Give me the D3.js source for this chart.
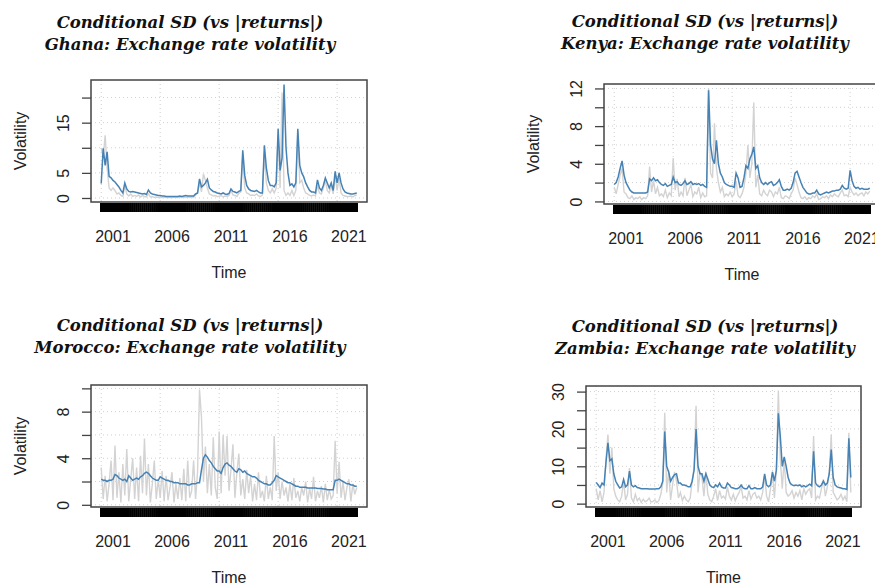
<!DOCTYPE html>
<html>
<head>
<meta charset="utf-8">
<script src="https://cdn.jsdelivr.net/npm/d3@7"></script>
<style>
  body { margin: 0; background: #fff; }
</style>
</head>
<body>
<div id="chart"></div>
<script>
// bimonthly series, start 2000, 6 obs per year
const startYear = 2000;
const perYear = 6;

const ghanaSigma = [
  2.9, 9.9, 6.5, 9.2, 4.3, 4.0,
  3.5, 3.2, 2.7, 2.2, 1.5, 1.0,
  3.0, 1.8, 1.3, 1.2, 1.3, 1.2,
  1.1, 1.0, 0.9, 0.8, 0.9, 0.7,
  1.6, 1.0, 0.8, 0.7, 0.6, 0.5,
  0.5, 0.4, 0.4, 0.3, 0.3, 0.3,
  0.3, 0.3, 0.3, 0.3, 0.4, 0.3,
  0.4, 0.5, 0.4, 0.4, 0.4, 0.4,
  0.8, 1.0, 3.8, 2.2, 2.5, 3.0,
  3.7, 2.0, 1.6, 1.3, 1.2, 1.0,
  0.9, 0.8, 1.0, 0.8, 0.7, 0.9,
  1.8, 1.3, 1.2, 1.0, 1.3, 1.5,
  9.5, 4.5, 2.5, 1.8, 1.5, 1.4,
  1.3, 1.5, 1.2, 1.0, 1.0, 10.5,
  6.0, 3.5, 2.5, 2.5, 2.2, 3.0,
  13.8, 5.5, 8.0, 22.6, 10.0, 5.0,
  2.5, 2.8, 2.2, 3.0, 13.8, 6.5,
  5.0, 4.2, 3.0, 2.2, 1.5, 1.2,
  1.2, 1.0, 3.6, 2.0, 1.5, 2.5,
  4.0, 3.0, 2.0, 3.0, 1.5, 5.3,
  3.0, 5.0, 3.0, 1.8, 1.2, 1.0,
  0.9, 0.8, 0.8, 0.9, 1.0
];
const ghanaAbsRet = [
  10.0, 8.0, 12.5, 6.0, 2.0, 1.5,
  2.0, 1.5, 0.8, 1.0, 0.5, 0.3,
  2.5, 0.8, 0.4, 0.8, 0.3, 0.5,
  0.3, 0.6, 0.2, 0.5, 0.3, 0.2,
  0.8, 0.2, 0.3, 0.1, 0.2, 0.1,
  0.1, 0.1, 0.2, 0.1, 0.1, 0.1,
  0.1, 0.2, 0.1, 0.1, 0.2, 0.1,
  0.2, 0.1, 0.2, 0.1, 0.2, 0.1,
  0.6, 0.9, 3.0, 1.2, 4.8, 3.5,
  2.0, 0.8, 0.6, 0.4, 0.5, 0.3,
  0.3, 0.5, 0.2, 0.4, 0.3, 0.5,
  1.5, 0.6, 0.5, 0.3, 0.9, 1.2,
  8.5, 2.0, 1.0, 0.8, 0.5, 0.6,
  0.5, 0.8, 0.4, 0.3, 0.6, 9.0,
  3.0, 1.5, 1.0, 1.8, 1.0, 2.0,
  12.5, 2.0, 21.0, 1.5, 0.5, 1.0,
  0.5, 1.5, 0.5, 1.5, 13.0, 3.0,
  3.5, 2.0, 1.0, 0.8, 0.5, 0.4,
  0.6, 0.4, 2.5, 1.0, 0.8, 2.0,
  3.5, 1.5, 1.0, 2.5, 0.8, 4.5,
  1.5, 4.0, 1.0, 0.5, 0.4, 0.3,
  0.3, 0.4, 0.2, 0.5, 0.6
];

const kenyaSigma = [
  1.8, 2.0, 2.6, 3.5, 4.3, 2.8,
  2.0, 1.6, 1.2, 1.0, 0.9, 0.9,
  0.9, 0.9, 0.9, 0.9, 0.9, 1.0,
  2.4, 2.2, 2.5, 2.2, 2.3, 2.0,
  1.8, 1.7, 1.9, 1.6, 1.7, 1.8,
  2.6, 2.0, 2.1, 1.8, 1.7, 1.9,
  2.2, 1.8, 1.9, 2.1, 1.8, 1.9,
  1.8, 1.9, 1.7, 1.8, 1.6, 1.5,
  11.8, 6.0, 4.5, 4.0, 6.5, 4.0,
  3.0, 2.6, 2.0, 1.8, 1.7, 1.6,
  1.6, 1.5, 3.0, 2.5, 1.5, 1.6,
  2.5, 3.8, 3.5, 4.5, 5.0, 5.8,
  3.5, 3.8, 2.5, 2.0, 1.8, 2.0,
  1.8, 2.0, 2.1, 1.7, 1.8, 2.0,
  2.3, 1.6, 1.2, 1.2, 1.3, 1.2,
  1.4, 2.0, 3.0, 3.2, 2.6, 2.0,
  1.5, 1.2, 0.9, 0.8, 0.8, 0.9,
  0.9, 1.2, 0.8, 0.7, 0.8, 0.9,
  1.0, 0.9, 1.0, 1.1, 1.1, 1.2,
  1.2, 1.3, 1.7, 1.4, 1.3, 1.4,
  3.3, 2.2, 1.6, 1.4, 1.5, 1.3,
  1.4, 1.3, 1.3, 1.3, 1.4
];
const kenyaAbsRet = [
  1.5, 0.8, 1.8, 2.8, 3.5, 1.0,
  0.8, 0.4, 0.3, 0.6, 0.2, 0.4,
  0.3, 0.5, 0.2, 0.4, 0.3, 0.6,
  3.7, 1.0, 2.2, 0.8, 1.5, 0.6,
  0.8, 0.5, 1.2, 0.4, 0.9, 0.6,
  4.6, 1.2, 2.4, 0.5, 1.0, 0.6,
  2.5, 0.6, 1.2, 1.8, 0.5, 1.0,
  0.8, 1.5, 0.4, 0.9, 0.5, 0.6,
  12.0, 3.0, 2.5, 8.3, 3.5, 2.0,
  1.0, 1.5, 0.5, 0.8, 0.6, 1.0,
  0.5, 0.8, 2.2, 0.6, 0.4, 0.8,
  1.5, 3.0, 6.0, 2.5, 4.0, 10.5,
  1.5, 2.8, 0.8, 0.6, 1.2, 0.8,
  0.6, 1.2, 1.0, 0.5, 1.0, 0.8,
  1.5, 0.4, 0.3, 0.6, 0.5, 0.3,
  0.8, 1.2, 2.5, 1.8, 1.0, 0.4,
  0.3, 0.5, 0.2, 0.4, 0.3, 0.6,
  0.4, 0.8, 0.2, 0.3, 0.5, 0.4,
  0.6, 0.3, 0.7, 0.5, 0.8, 0.6,
  0.5, 0.9, 1.2, 0.6, 0.7, 0.5,
  1.5, 1.0, 0.7, 0.9, 0.6, 0.8,
  0.9, 0.6, 1.0, 0.8, 1.1
];

const moroccoSigma = [
  2.2, 2.1, 2.1, 2.0, 2.1, 2.1,
  2.2, 2.6, 2.5, 2.3, 2.2, 2.1,
  2.2, 2.0, 2.5, 2.3, 2.1, 2.2,
  2.3, 2.2, 2.4, 2.5, 2.7, 2.8,
  2.7, 2.5, 2.3, 2.2, 2.1, 2.1,
  2.4, 2.3, 2.2, 2.1, 2.1, 2.0,
  2.0, 1.9, 1.9, 1.9, 1.8, 1.8,
  1.8, 1.8, 1.7, 1.7, 1.8, 1.8,
  1.8, 1.9, 1.9, 3.0, 4.0, 4.3,
  4.1, 3.8, 3.6, 3.3, 3.1, 2.9,
  2.9, 2.7, 3.2, 3.5, 3.6, 3.4,
  3.3, 3.1, 2.9, 2.8, 3.1, 3.0,
  2.8, 2.9, 2.7, 2.6, 2.5, 2.4,
  2.4, 2.3, 2.1, 2.0, 1.9, 1.8,
  1.8, 1.7, 1.7, 1.9, 2.1, 2.5,
  2.4, 2.3, 2.2, 2.1, 2.0, 1.9,
  1.9, 1.8, 1.7, 1.6, 1.6, 1.5,
  1.5, 1.5, 1.5, 1.45, 1.45, 1.45,
  1.45, 1.45, 1.4, 1.4, 1.4, 1.35,
  1.35, 1.3, 1.3, 1.3, 1.3, 2.1,
  2.1, 2.2, 2.1, 2.0, 1.9, 1.8,
  1.8, 1.7, 1.7, 1.6, 1.6
];
const moroccoAbsRet = [
  3.2, 0.5, 2.5, 0.3, 1.8, 3.8,
  0.4, 5.1, 0.6, 2.8, 0.2, 3.5,
  0.8, 4.8, 0.3, 2.2, 4.0, 0.5,
  3.2, 0.3, 4.2, 1.0, 5.7, 0.8,
  3.5, 0.2, 1.8, 3.8, 0.5, 2.2,
  0.6, 2.9, 0.3, 2.5, 0.4, 1.5,
  2.8, 0.2, 1.8, 0.5, 2.3, 0.4,
  3.1, 0.3, 3.8, 0.6, 1.2, 3.8,
  0.5, 2.8, 9.9, 7.5, 2.0, 5.0,
  1.0, 3.5, 0.8, 5.8, 1.5, 0.5,
  6.3, 1.0, 6.0, 2.5, 5.9, 1.2,
  3.0, 5.2, 0.6, 2.8, 4.4, 0.8,
  2.2, 0.5, 3.0, 1.0, 2.5, 0.3,
  1.8, 0.4, 2.8, 0.6, 1.2, 0.3,
  2.5, 0.5, 1.5, 0.4, 5.9, 1.2,
  2.8, 0.5, 2.0, 0.8, 1.5, 0.3,
  1.8, 0.4, 2.3, 0.6, 1.2, 0.3,
  1.5, 0.8, 2.0, 0.2, 1.4, 0.5,
  2.4, 0.3, 1.2, 0.6, 1.6, 0.2,
  1.8, 0.4, 1.3, 0.5, 0.8, 5.5,
  1.0, 3.7, 0.6, 2.0, 0.4, 1.5,
  2.2, 0.3, 1.8, 0.9, 1.5
];

const zambiaSigma = [
  5.7, 5.0, 4.3, 5.5, 5.0, 11.0,
  16.3, 11.5, 12.0, 8.0, 6.0, 5.0,
  4.2, 4.5, 6.5, 4.5, 5.0, 8.7,
  5.0, 4.5, 4.8, 4.3, 4.2, 4.0,
  4.0, 4.0, 4.0, 3.9, 3.9, 3.9,
  3.9, 4.0, 4.0, 4.5, 6.0, 19.3,
  10.0, 8.5, 6.0, 7.0, 7.8, 8.0,
  5.5, 5.5, 5.0, 5.0, 4.8, 4.5,
  4.5, 6.0, 9.0, 20.0, 10.0, 8.0,
  8.0, 6.0, 8.0, 6.5, 5.0, 4.5,
  4.3, 5.0, 4.5, 5.5, 4.5, 4.2,
  4.2, 5.5, 5.0, 4.3, 4.2, 4.0,
  4.0, 4.3, 5.0, 4.2, 4.0, 4.0,
  4.8, 4.0, 4.0, 4.3, 4.0, 4.0,
  4.0, 4.5, 8.0, 5.0, 4.5, 5.0,
  8.5, 6.0, 9.0, 24.2, 18.0, 10.0,
  12.5, 10.0, 7.0, 5.5, 5.0, 4.8,
  5.0, 4.8, 5.0, 4.5, 4.8, 4.5,
  4.8, 5.2, 4.8, 14.0, 5.5, 4.8,
  4.5, 5.0, 6.0, 5.0, 5.5, 8.0,
  14.5, 7.0, 5.0, 4.5, 4.3, 4.2,
  4.0, 4.0, 3.8, 17.5, 7.0
];
const zambiaAbsRet = [
  4.0, 1.0, 3.5, 0.5, 3.0, 12.0,
  18.5, 8.0, 15.0, 4.0, 2.0, 1.0,
  0.5, 2.0, 6.0, 1.0, 2.5, 9.5,
  1.5, 0.5, 2.5, 0.8, 1.5, 0.3,
  1.2, 0.5, 0.8, 1.5, 0.4, 0.6,
  1.0, 0.3, 0.8, 2.5, 5.5, 24.3,
  3.0, 9.0, 1.0, 5.0, 8.5, 6.0,
  1.5, 3.0, 0.8, 2.0, 1.0, 0.5,
  1.5, 6.0, 10.0, 26.2, 3.0, 8.5,
  7.0, 2.0, 8.5, 2.5, 1.0, 0.5,
  2.0, 4.0, 0.8, 3.5, 1.5, 2.0,
  1.2, 4.5, 2.0, 1.0, 2.5, 0.8,
  2.0, 3.0, 4.5, 1.5, 2.0, 1.0,
  3.5, 1.2, 2.5, 3.0, 1.5, 2.0,
  1.0, 3.0, 7.5, 2.0, 0.5, 4.0,
  8.0, 1.5, 9.0, 30.3, 12.0, 4.0,
  12.0, 3.0, 2.0, 2.5, 3.5, 1.5,
  3.0, 2.0, 3.5, 1.0, 4.0, 2.5,
  3.5, 4.0, 1.5, 18.1, 1.0, 2.0,
  1.5, 4.0, 6.5, 2.0, 4.5, 8.5,
  18.4, 3.0, 2.0, 1.0, 1.5, 2.5,
  1.0, 2.0, 0.5, 19.0, 3.0
];

const xGridYears = [2000, 2005, 2010, 2015, 2020];
const xLabelYears = [2001, 2006, 2011, 2016, 2021];

const ghanaTicks = [0, 5, 10, 15, 20];
const ghanaLabels = [0, 5, 15];
const kenyaTicks = [0, 2, 4, 6, 8, 10, 12];
const kenyaLabels = [0, 4, 8, 12];
const moroccoTicks = [0, 2, 4, 6, 8, 10];
const moroccoLabels = [0, 4, 8];
const zambiaTicks = [0, 5, 10, 15, 20, 25, 30];
const zambiaLabels = [0, 10, 20, 30];

const titleTop = 'Conditional SD (vs |returns|)';

const panels = [
  { id: 'ghana', country: 'Ghana', sigma: ghanaSigma, absRet: ghanaAbsRet,
    ticks: ghanaTicks, labels: ghanaLabels,
    left: 91, top: 80, width: 276, height: 122, titleX: 190, titleY: 28, yTitle: true },
  { id: 'kenya', country: 'Kenya', sigma: kenyaSigma, absRet: kenyaAbsRet,
    ticks: kenyaTicks, labels: kenyaLabels,
    left: 604, top: 84, width: 276, height: 120, titleX: 705, titleY: 27, yTitle: true },
  { id: 'morocco', country: 'Morocco', sigma: moroccoSigma, absRet: moroccoAbsRet,
    ticks: moroccoTicks, labels: moroccoLabels,
    left: 91, top: 385, width: 276, height: 122, titleX: 190, titleY: 331, yTitle: true },
  { id: 'zambia', country: 'Zambia', sigma: zambiaSigma, absRet: zambiaAbsRet,
    ticks: zambiaTicks, labels: zambiaLabels,
    left: 586, top: 386, width: 275, height: 121, titleX: 705, titleY: 332, yTitle: false },
];

const W = 875, H = 586;
const textColor = '#222';

const svg = d3.select('#chart')
  .append('svg')
  .attr('width', W)
  .attr('height', H)
  .style('font-family', '"Liberation Sans", Arial, sans-serif');

const drawPanel = (p) => {
  const g = svg.append('g').attr('class', `panel-${p.id}`);
  const n = p.sigma.length;
  const t = d3.range(n).map(i => startYear + i / perYear);

  // R-style axes: 4% padding on each side of the data range
  const tExt = d3.extent(t);
  const tPad = (tExt[1] - tExt[0]) * 0.04;
  const x = d3.scaleLinear()
    .domain([tExt[0] - tPad, tExt[1] + tPad])
    .range([p.left, p.left + p.width]);

  const vMin = d3.min([d3.min(p.sigma), d3.min(p.absRet)]);
  const vMax = d3.max([d3.max(p.sigma), d3.max(p.absRet)]);
  const vPad = (vMax - vMin) * 0.04;
  const y = d3.scaleLinear()
    .domain([vMin - vPad, vMax + vPad])
    .range([p.top + p.height, p.top]);

  const clipId = `clip-${p.id}`;
  g.append('clipPath').attr('id', clipId)
    .append('rect')
    .attr('x', p.left).attr('y', p.top)
    .attr('width', p.width).attr('height', p.height);

  // grid
  g.append('g').selectAll('line.h')
    .data(p.ticks)
    .enter().append('line')
    .attr('x1', p.left).attr('x2', p.left + p.width)
    .attr('y1', d => y(d)).attr('y2', d => y(d))
    .attr('stroke', '#cfcfcf').attr('stroke-width', 1)
    .attr('stroke-dasharray', '1,3');
  g.append('g').selectAll('line.v')
    .data(xGridYears)
    .enter().append('line')
    .attr('x1', d => x(d)).attr('x2', d => x(d))
    .attr('y1', p.top).attr('y2', p.top + p.height)
    .attr('stroke', '#cfcfcf').attr('stroke-width', 1)
    .attr('stroke-dasharray', '1,3');

  const line = d3.line()
    .x((d, i) => x(t[i]))
    .y(d => y(d));

  const plot = g.append('g').attr('clip-path', `url(#${clipId})`);
  plot.append('path')
    .datum(p.absRet)
    .attr('d', line)
    .attr('fill', 'none')
    .attr('stroke', '#d3d3d3')
    .attr('stroke-width', 1.4);
  plot.append('path')
    .datum(p.sigma)
    .attr('d', line)
    .attr('fill', 'none')
    .attr('stroke', 'steelblue')
    .attr('stroke-width', 1.5);

  // rug of observation dates
  g.append('g').selectAll('line')
    .data(t)
    .enter().append('line')
    .attr('x1', d => x(d)).attr('x2', d => x(d))
    .attr('y1', p.top + p.height + 1)
    .attr('y2', p.top + p.height + 10)
    .attr('stroke', '#000')
    .attr('stroke-width', 2.4);

  // box
  g.append('rect')
    .attr('x', p.left).attr('y', p.top)
    .attr('width', p.width).attr('height', p.height)
    .attr('fill', 'none')
    .attr('stroke', '#444')
    .attr('stroke-width', 1.5);

  // y axis
  const yG = g.append('g')
    .attr('transform', `translate(${p.left}, 0)`)
    .call(d3.axisLeft(y)
      .tickValues(p.ticks)
      .tickSize(9)
      .tickFormat(d => (p.labels.includes(d) ? d : '')));
  yG.select('.domain').remove();
  yG.selectAll('.tick line').attr('stroke', '#444').attr('stroke-width', 1.3);
  yG.selectAll('.tick text')
    .attr('x', 0)
    .attr('y', -22)
    .attr('dy', 0)
    .attr('transform', 'rotate(-90)')
    .style('text-anchor', 'middle')
    .style('font-size', '16px')
    .style('font-family', '"Liberation Sans", Arial, sans-serif')
    .attr('fill', textColor);

  // x labels
  g.append('g').selectAll('text')
    .data(xLabelYears)
    .enter().append('text')
    .attr('x', d => x(d))
    .attr('y', p.top + p.height + 40)
    .attr('text-anchor', 'middle')
    .style('font-size', '16px')
    .attr('fill', textColor)
    .text(d => d);

  g.append('text')
    .attr('x', p.left + p.width / 2)
    .attr('y', p.top + p.height + 76)
    .attr('text-anchor', 'middle')
    .style('font-size', '16px')
    .attr('fill', textColor)
    .text('Time');

  if (p.yTitle) {
    g.append('text')
      .attr('transform', `translate(${p.left - 65}, ${p.top + p.height / 2}) rotate(-90)`)
      .attr('text-anchor', 'middle')
      .style('font-size', '16px')
      .attr('fill', textColor)
      .text('Volatility');
  }

  // title
  const title = g.append('text')
    .attr('text-anchor', 'middle')
    .style('font-family', '"DejaVu Serif", serif')
    .style('font-weight', 'bold')
    .style('font-style', 'italic')
    .style('font-size', '16.5px')
    .attr('fill', '#111');
  title.append('tspan')
    .attr('x', p.titleX).attr('y', p.titleY)
    .text(titleTop);
  title.append('tspan')
    .attr('x', p.titleX).attr('y', p.titleY + 22)
    .text(`${p.country}: Exchange rate volatility`);
};

panels.forEach(drawPanel);
</script>
</body>
</html>
